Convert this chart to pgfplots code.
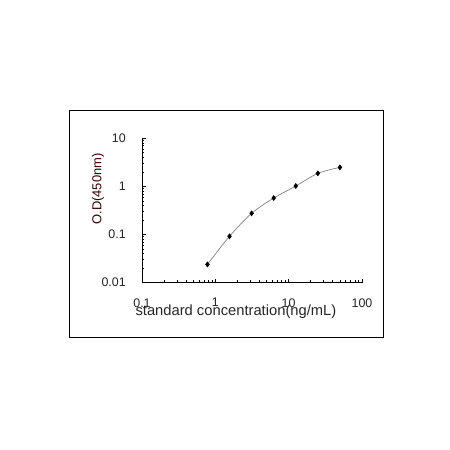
\documentclass[border=0pt]{standalone}
\usepackage{fontspec}
\setmainfont{Liberation Sans}
\usepackage{pgfplots}
\pgfplotsset{compat=1.18}
\begin{document}
\begin{tikzpicture}[x=1bp,y=1bp]
\useasboundingbox (0,0) rectangle (450,450);
\draw[line width=1bp] (69,112) rectangle (383,339);
\begin{axis}[
  at={(142bp,167.3bp)}, anchor=south west,
  scale only axis, width=220bp, height=144.4bp,
  xmode=log, ymode=log,
  xmin=0.1, xmax=100, ymin=0.01, ymax=10,
  axis x line=bottom, axis y line=left,
  axis line style={-, line width=0.9bp},
  tick align=inside,
  major tick length=4bp, minor tick length=2.2bp,
  every tick/.style={black, line width=0.7bp},
  xtick={0.1,1,10,100}, xticklabels={0.1,1,10,100},
  ytick={0.01,0.1,1,10}, yticklabels={0.01,0.1,1,10},
  minor xtick={0.2,0.3,0.4,0.5,0.6,0.7,0.8,0.9,2,3,4,5,6,7,8,9,20,30,40,50,60,70,80,90},
  minor ytick={0.02,0.03,0.04,0.05,0.06,0.07,0.08,0.09,0.2,0.3,0.4,0.5,0.6,0.7,0.8,0.9,2,3,4,5,6,7,8,9},
  xticklabel style={font=\fontsize{12.5}{14}\selectfont, anchor=north, inner sep=0pt, yshift=-15.5bp, text=black!85},
  yticklabel style={font=\fontsize{12.5}{14}\selectfont, anchor=east, inner sep=0pt, xshift=-16bp, text=black!85},
  xlabel={standard concentration(ng/mL)},
  xlabel style={font=\fontsize{14.8}{16}\selectfont, at={(axis description cs:0.427,-0.203)}, anchor=center, text=black!85},
  ylabel={O.D(450nm)},
  ylabel style={font=\fontsize{13}{15}\selectfont, at={(axis description cs:-0.2,0.649)}, anchor=center, rotate=0, text=black!80!red},
  clip=false,
]
\addplot[gray, line width=0.7bp, smooth, tension=0.5, mark=diamond*, mark size=2.4bp,
  mark options={black, fill=black, solid}]
  coordinates {(0.78,0.024) (1.56,0.092) (3.125,0.276) (6.25,0.574) (12.5,1.02) (25,1.87) (50,2.49)};
\end{axis}
\end{tikzpicture}
\end{document}
